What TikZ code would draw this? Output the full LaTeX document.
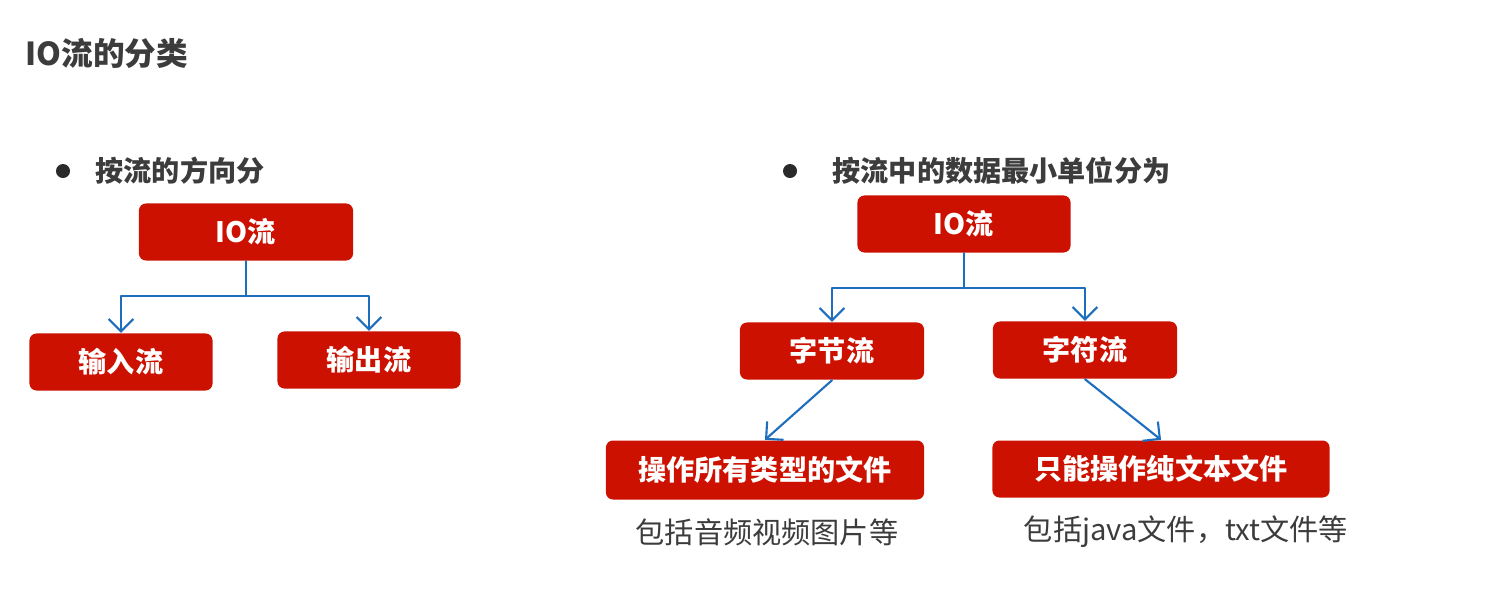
\documentclass[tikz,border=0pt]{standalone}
\usepackage{fontspec}
\setmainfont{Noto Sans CJK SC}
\usetikzlibrary{arrows.meta}
\definecolor{boxred}{RGB}{204,17,0}
\definecolor{linkblue}{RGB}{30,110,190}
\definecolor{textgrey}{RGB}{60,60,60}
\tikzset{
  every node/.style={font=\fontsize{8}{10}\selectfont},
  box/.style={rectangle, rounded corners=2pt, fill=boxred, text=white,
    font=\fontsize{8}{10}\selectfont\bfseries, inner sep=0pt, minimum height=0.57cm},
  bullet/.style={circle, fill=textgrey!70!black, inner sep=0pt, minimum size=0.14cm},
  heading/.style={text=textgrey, font=\fontsize{8}{10}\selectfont\bfseries,
    anchor=west, inner sep=0pt},
  note/.style={text=textgrey, font=\fontsize{8.3}{10}\selectfont, inner sep=0pt},
  link/.style={draw=linkblue, line width=0.6pt},
  arrow/.style={link, -{Straight Barb[length=3.5pt, width=7pt]}}
}

\begin{document}
\begin{tikzpicture}[x=0.01cm, y=-0.01cm, line cap=round, line join=round]
  \useasboundingbox[fill=white] (0,0) rectangle (1485,590);

  \node[heading, font=\fontsize{9}{11}\selectfont\bfseries] (title) at (25,53) {IO流的分类};

  % direction
  \node[bullet] (b1) at (63,171) {};
  \node[heading] (h1) at (95,171) {按流的方向分};
  \node[box, minimum width=2.14cm] (io1) at (246,232) {IO流};
  \node[box, minimum width=1.83cm] (in) at (121,362) {输入流};
  \node[box, minimum width=1.83cm] (out) at (369,360) {输出流};
  \coordinate (j1) at (246,296);
  \draw[link] (io1.south) -- (j1);
  \draw[arrow] (j1) -| (in.north);
  \draw[arrow] (j1) -| (out.north);

  % unit
  \node[bullet] (b2) at (790,171) {};
  \node[heading] (h2) at (832,171) {按流中的数据最小单位分为};
  \node[box, minimum width=2.13cm] (io2) at (964,224) {IO流};
  \node[box, minimum width=1.84cm] (byte) at (832,351) {字节流};
  \node[box, minimum width=1.84cm] (char) at (1085,350) {字符流};
  \node[box, minimum width=3.18cm, minimum height=0.59cm] (allfile) at (765,470) {操作所有类型的文件};
  \node[box, minimum width=3.37cm] (txtfile) at (1161,469) {只能操作纯文本文件};
  \coordinate (j2) at (964,288);
  \draw[link] (io2.south) -- (j2);
  \draw[arrow] (j2) -| (byte.north);
  \draw[arrow] (j2) -| (char.north);
  \draw[arrow] (byte.south) -- (allfile.north);
  \draw[arrow] (char.south) -- (txtfile.north);

  \node[note] (n1) at (767,532) {包括音频视频图片等};
  \node[note] (n2) at (1186,532) {包括java文件，txt文件等};
\end{tikzpicture}
\end{document}
